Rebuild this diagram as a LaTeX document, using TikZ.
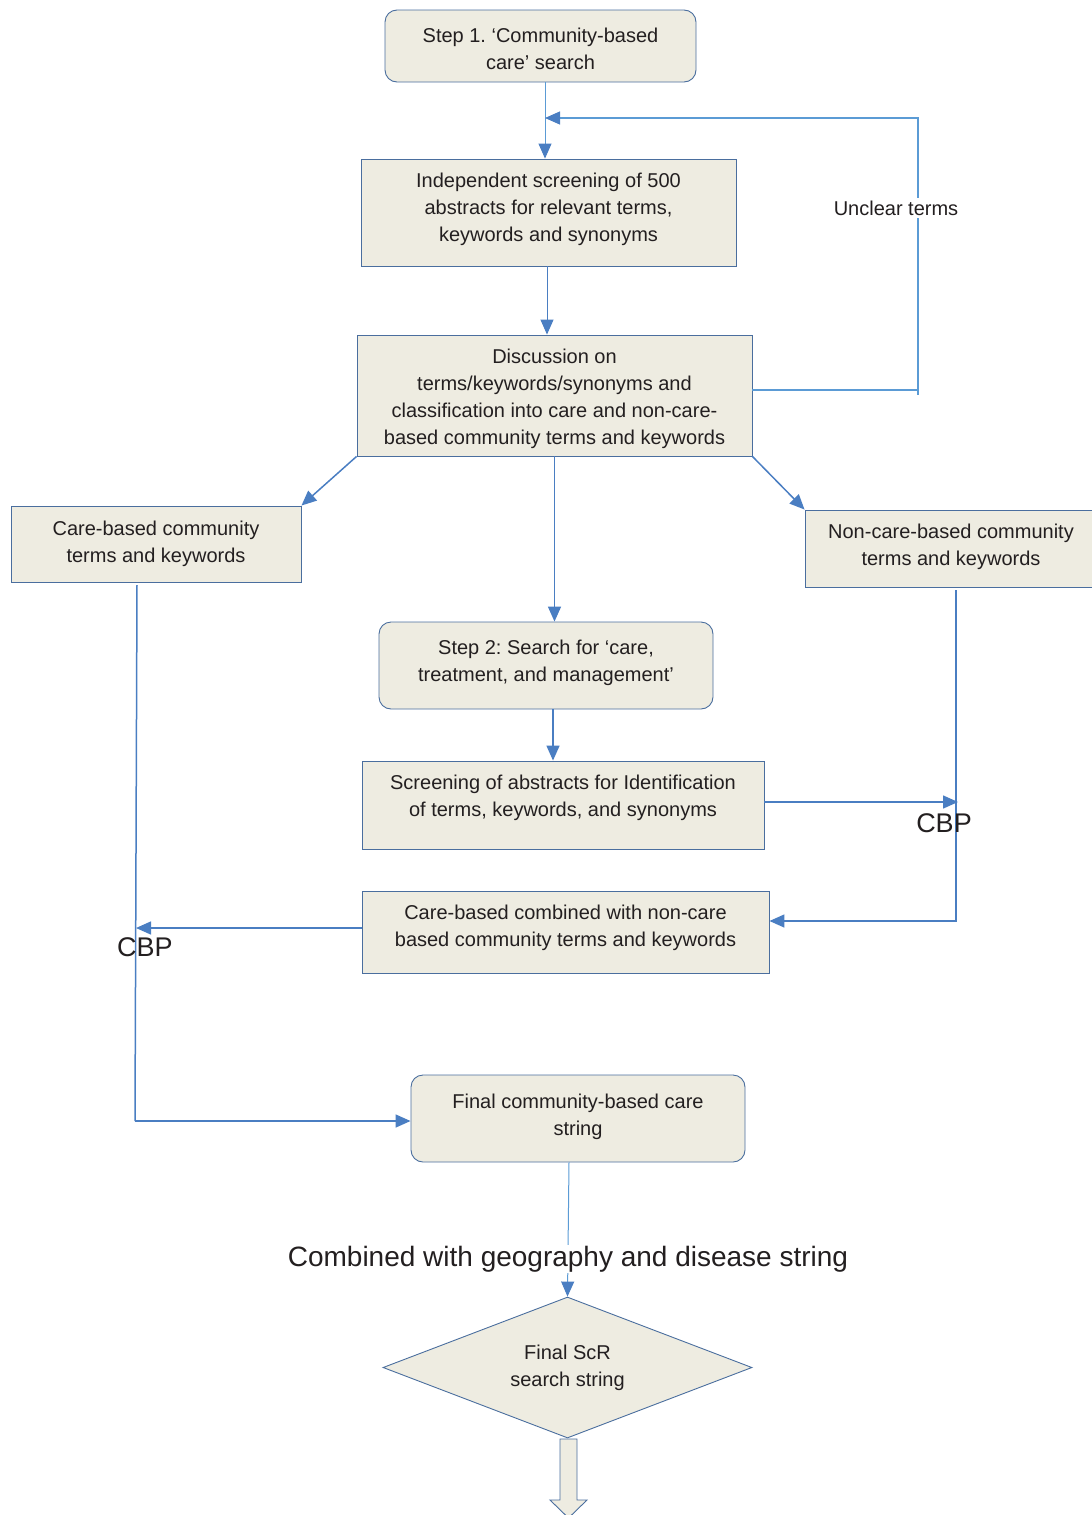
\documentclass[tikz,border=0pt]{standalone}
\usepackage{fontspec}
\setmainfont{Liberation Sans}
\usetikzlibrary{arrows.meta,shapes.geometric}
\definecolor{boxfill}{HTML}{EEECE1}
\definecolor{boxline}{HTML}{4A6E9E}
\definecolor{conn}{HTML}{4A7EC2}
\definecolor{connlight}{HTML}{5B9BD5}
\definecolor{txt}{HTML}{231F20}
\frenchspacing
\begin{document}
\begin{tikzpicture}[x=1pt,y=-1pt,
  box/.style={draw=boxline, fill=boxfill, line width=0.9pt, text=txt,
    font=\fontsize{20}{27}\selectfont, align=center, inner sep=0pt},
  rbox/.style={box, rounded corners=12pt},
  tip/.style={-{Triangle[length=15pt,width=13pt,color=conn]}},
  conn/.style={draw=conn, line width=1.5pt, tip},
  lconn/.style={draw=connlight, line width=1pt, tip},
  lab/.style={text=txt, inner sep=1pt}
]
\useasboundingbox (0,0) rectangle (1092,1515);

% boxes
\node[rbox, minimum width=311, minimum height=72] (s1) at (540.5,46)
  {\rule{0pt}{21pt}Step 1. ‘Community-based\\care’ search};
\node[box, minimum width=375, minimum height=107, text depth=10pt] (scr) at (548.5,212.5)
  {Independent screening of 500\\abstracts for relevant terms,\\keywords and synonyms};
\node[box, minimum width=395, minimum height=121] (disc) at (554.5,395.5)
  {\rule{0pt}{20.5pt}Discussion on\\terms/keywords/synonyms and\\classification into care and non-care-\\based community terms and keywords};
\node[box, minimum width=290, minimum height=76] (care) at (156,544)
  {Care-based community\\terms and keywords};
\node[box, minimum width=292, minimum height=77, text depth=8pt] (noncare) at (951,548.5)
  {Non-care-based community\\terms and keywords};
\node[rbox, minimum width=334, minimum height=87, text depth=10pt] (s2) at (546,665.5)
  {Step 2: Search for ‘care,\\treatment, and management’};
\node[box, minimum width=402, minimum height=88, text depth=18pt] (abs) at (563,805)
  {Screening of abstracts for Identification\\of terms, keywords, and synonyms};
\node[box, minimum width=407, minimum height=82, text depth=12pt] (comb) at (565.5,932)
  {Care-based combined with non-care\\based community terms and keywords};
\node[rbox, minimum width=334, minimum height=87, text depth=8pt] (fin) at (578,1118.5)
  {Final community-based care\\string};
\node[box, diamond, aspect=2.6, minimum width=369, minimum height=141] (dia) at (567.5,1367.5)
  {Final ScR\\search string};

% helper coordinates
\coordinate (a1) at (545,118);
\coordinate (fb) at (918,118);
\coordinate (fbr) at (918,390);
\coordinate (fbt) at (918,395);
\coordinate (rt) at (958,802);
\coordinate (nv0) at (956,590);
\coordinate (nv) at (956,921);
\coordinate (lc) at (136,928);
\coordinate (cv0) at (137,585);
\coordinate (cv1) at (135,1121);
\coordinate (sx) at (547,0);
\coordinate (s2x) at (553,0);
\coordinate (fx) at (569,0);
\coordinate (ab) at (764,802);
\coordinate (cb) at (362,928);

% connectors
\draw[lconn] (s1.south -| a1) -- (scr.north -| a1);
\draw[draw=connlight, line width=1.2pt] (fbr) -- (fbt);
\draw[lconn, line width=1.2pt] (disc.east |- fbr) -- (fbr) -- (fb) -- (a1);
\node[lab, fill=white, inner sep=3pt, font=\fontsize{20}{24}\selectfont] (ut) at (896,208) {Unclear terms};
\draw[conn, line width=1pt] (scr.south -| sx) -- (disc.north -| sx);
\draw[conn] (disc.south west) -- (care.north east);
\draw[conn] (disc.south east) -- (noncare.north west);
\draw[conn] (disc.south) -- (disc.south |- s2.north);
\draw[conn] (s2.south -| s2x) -- (abs.north -| s2x);
\draw[conn] (ab) -- (rt);
\draw[conn] (nv0) -- (nv) -- (comb.east |- nv);
\draw[conn] (cb) -- (lc);
\draw[conn, -] (cv0) -- (cv1);
\draw[conn] (cv1) -- (fin.west |- cv1);
\draw[lconn] (fin.south -| fx) -- (dia.north);
\node[lab, fill=white, font=\fontsize{28}{32}\selectfont] (geo) at (568,1259)
  {Combined with geography and disease string};
\node[lab, font=\fontsize{27}{30}\selectfont] (cbp1) at (944,823) {CBP};
\node[lab, font=\fontsize{27}{30}\selectfont] (cbp2) at (145,947) {CBP};

% block arrow below diamond
\draw[draw=boxline, fill=boxfill, line width=0.9pt]
  (560,1439) -- (577,1439) -- (577,1500) -- (587,1500) -- (568.5,1518)
  -- (550,1500) -- (560,1500) -- cycle;
\end{tikzpicture}
\end{document}
